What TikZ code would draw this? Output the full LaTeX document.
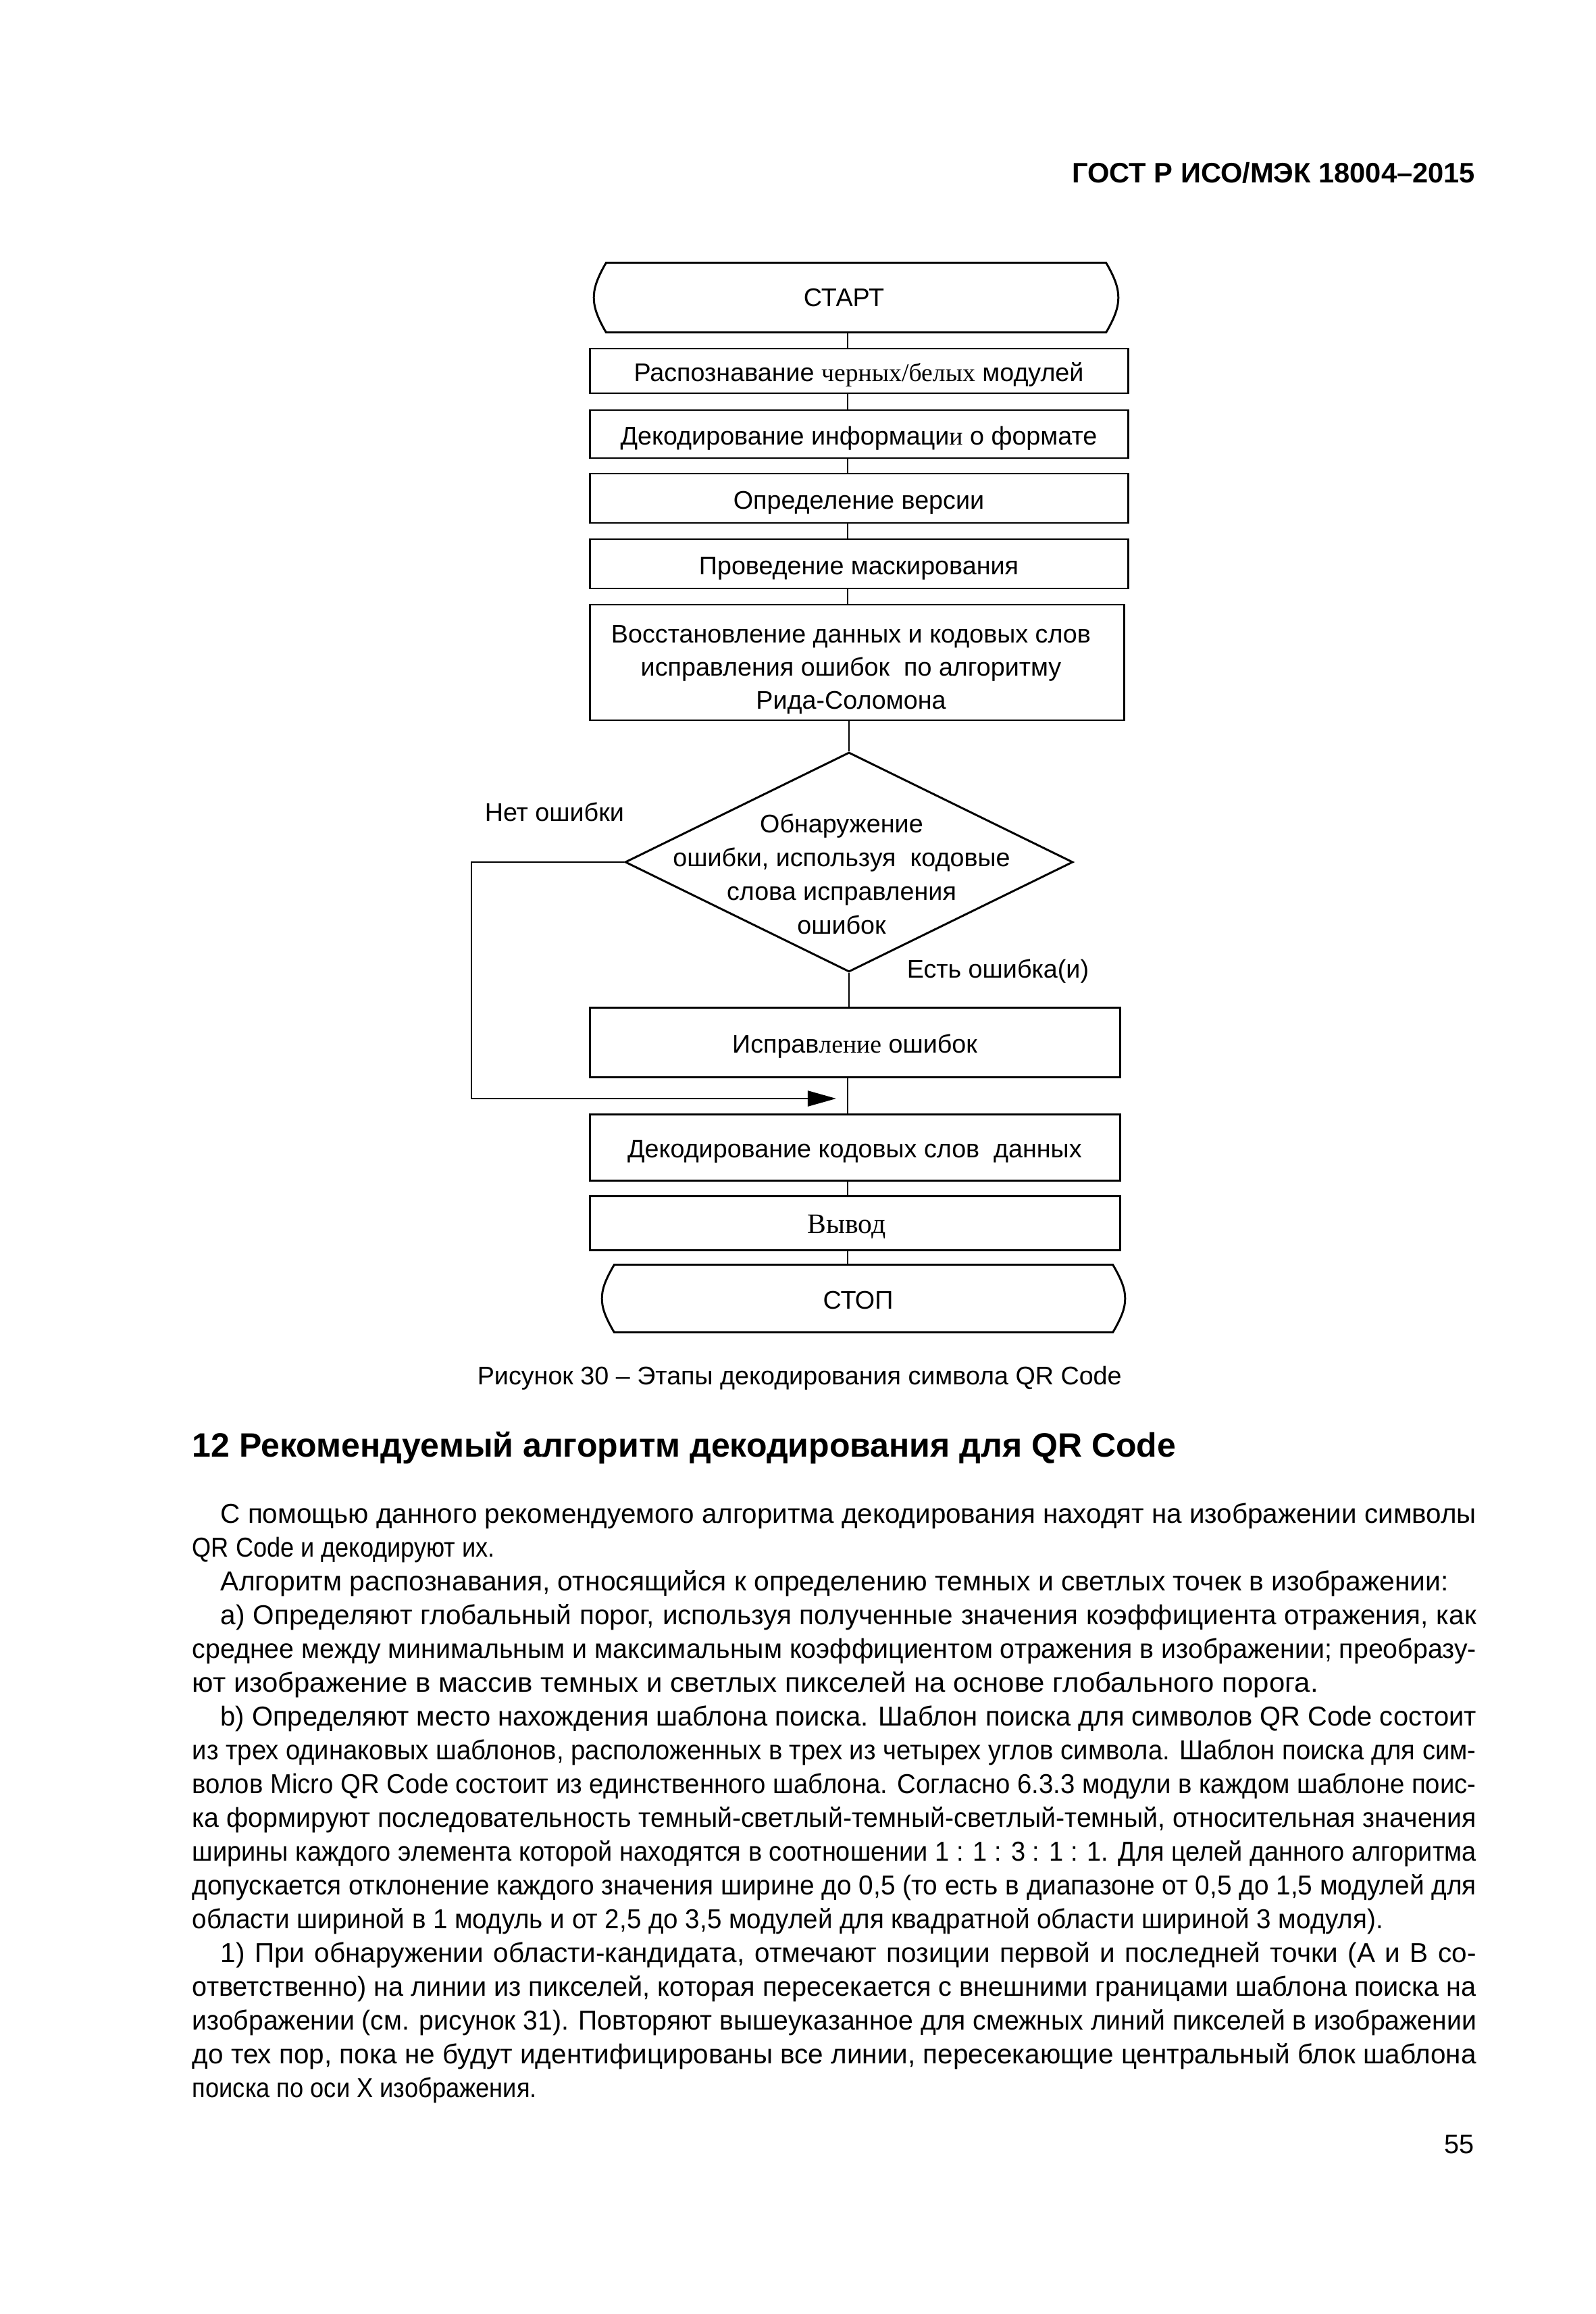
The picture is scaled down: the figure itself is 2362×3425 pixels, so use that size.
\documentclass[tikz,border=0pt]{standalone}
\usepackage{fontspec}
\setmainfont{Liberation Sans}
\newfontfamily\tms{Liberation Serif}
\usepackage{graphicx}
\usetikzlibrary{arrows.meta,calc,shapes.geometric}
\newlength\pxu \setlength\pxu{0.252pt}
\newsavebox\lbox
\newcommand\jl[2]{\sbox\lbox{#2}\ifdim\wd\lbox>#1\relax\resizebox{#1}{\height}{\usebox\lbox}\else\makebox[#1][s]{#2}\fi}
\newcommand\fl[2]{\resizebox{#1}{\height}{#2}}
\newcommand\flowfont{\fontsize{9.5pt}{12.6pt}\selectfont}
\newcommand\bodyfont{\fontsize{10.2pt}{12.6pt}\selectfont}
\newcommand\termoutline[1]{%
  \draw[boxline] ($(#1.north west)+(18,0)$) -- ($(#1.north east)+(-18,0)$)
   .. controls ($(#1.north east)+(-4,24)$) and ($(#1.east)+(0,-13)$) .. (#1.east)
   .. controls ($(#1.east)+(0,13)$) and ($(#1.south east)+(-4,-24)$) .. ($(#1.south east)+(-18,0)$)
   -- ($(#1.south west)+(18,0)$)
   .. controls ($(#1.south west)+(4,-24)$) and ($(#1.west)+(0,13)$) .. (#1.west)
   .. controls ($(#1.west)+(0,-13)$) and ($(#1.north west)+(4,24)$) .. cycle;}
\tikzset{
  boxline/.style={line width=0.75pt},
  procbox/.style={draw, boxline, rectangle, inner sep=0pt, font=\flowfont, align=center, text height=8pt, text depth=0pt},
  termbox/.style={rectangle, inner sep=0pt, font=\flowfont},
  conn/.style={line width=0.6pt},
  lbl/.style={inner sep=0pt, anchor=base west, font=\flowfont},
  bodyline/.style={inner sep=0pt, anchor=base west, font=\bodyfont},
}
\begin{document}
\begin{tikzpicture}[x=\pxu, y=-\pxu]
\fill[white] (0,0) rectangle (2362,3425);
\useasboundingbox (0,0) rectangle (2362,3425);

% header
\node[inner sep=0pt, anchor=base east, font=\bfseries\fontsize{10.5pt}{12pt}\selectfont] (hdr) at (2185,271) {ГОСТ Р ИСО/МЭК 18004–2015};

% flowchart
\coordinate (spine) at (1255,0);
\node[termbox, minimum width=775\pxu, minimum height=101\pxu] (start) at (1267.5,440.5) {\hspace*{-36\pxu}СТАРТ};
\termoutline{start}
\node[procbox, minimum width=797\pxu, minimum height=66\pxu] (b1) at (1271.5,549) {Распознавание {\tms черных/белых} модулей};
\node[procbox, minimum width=797\pxu, minimum height=71\pxu] (b2) at (1271.5,642.5) {Декодирование информаци{\tms и} о формате};
\node[procbox, minimum width=797\pxu, minimum height=73\pxu] (b3) at (1271.5,737.5) {Определение версии};
\node[procbox, minimum width=797\pxu, minimum height=73\pxu] (b4) at (1271.5,834.5) {Проведение маскирования};
\node[draw, boxline, rectangle, inner sep=0pt, minimum width=791\pxu, minimum height=171\pxu] (b5) at (1268.5,980.5) {};
\node[inner sep=0pt, align=center, font={\fontsize{9.5pt}{12.4pt}\selectfont}] (b5t) at (1260,991) {Восстановление данных и кодовых слов\\исправления ошибок\ \ по алгоритму\\Рида-Соломона};
\node[draw, boxline, shape=diamond, minimum width=663\pxu, minimum height=325\pxu, inner sep=0pt] (dec) at (1257,1276) {};
\node[inner sep=0pt, font=\flowfont, align=center] (dtext) at (1246,1294) {Обнаружение\\ошибки, используя\ \ кодовые\\слова исправления\\ошибок};
\node[procbox, minimum width=785\pxu, minimum height=103\pxu] (fix) at (1265.5,1542.5) {Исправ{\tms ление} ошибок};
\node[procbox, minimum width=785\pxu, minimum height=98\pxu] (dcw) at (1265.5,1698) {Декодирование кодовых слов\ \ данных};
\node[procbox, minimum width=785\pxu, minimum height=80\pxu] (out) at (1265.5,1810) {\hspace*{-24\pxu}{\tms\fontsize{10.5pt}{12pt}\selectfont Вывод}};
\node[termbox, minimum width=773\pxu, minimum height=98\pxu, text height=8pt, text depth=0pt] (stop) at (1278.5,1922) {\hspace*{-16\pxu}СТОП};
\termoutline{stop}

\node[lbl] (noerr) at (717,1215) {Нет ошибки};
\node[lbl] (haserr) at (1342,1447) {Есть ошибка(и)};

\draw[conn] (start.south -| spine) -- (b1.north -| spine);
\draw[conn] (b1.south -| spine) -- (b2.north -| spine);
\draw[conn] (b2.south -| spine) -- (b3.north -| spine);
\draw[conn] (b3.south -| spine) -- (b4.north -| spine);
\draw[conn] (b4.south -| spine) -- (b5.north -| spine);
\draw[conn] (b5.south -| dec.north) -- (dec.north);
\draw[conn] (dec.south) -- (dec.south |- fix.north);
\draw[conn] (fix.south -| spine) -- (dcw.north -| spine);
\draw[conn] (dcw.south -| spine) -- (out.north -| spine);
\draw[conn] (out.south -| spine) -- (stop.north -| spine);
\coordinate (lc) at (698,1626);
\coordinate (arr) at (1238,1626);
\draw[conn, -{Triangle[length=10.6pt, width=5.8pt]}] (dec.west) -| (lc) -- (arr);

% caption
\node[inner sep=0pt, anchor=base west, font=\fontsize{9.5pt}{12pt}\selectfont] (cap) at (706,2049) {Рисунок 30 – Этапы декодирования символа QR Code};

% heading
\node[inner sep=0pt, anchor=base west, font=\bfseries\fontsize{12.6pt}{14pt}\selectfont] (h12) at (284,2156) {12 Рекомендуемый алгоритм декодирования для QR Code};

% body
\node[bodyline] (l1) at (326,2254) {\jl{468.47pt}{С помощью данного рекомендуемого алгоритма декодирования находят на изображении символы}};
\node[bodyline] (l2) at (284,2304) {\fl{112.9pt}{QR Code и декодируют их.}};
\node[bodyline] (l3) at (326,2354) {\fl{458.1pt}{Алгоритм распознавания, относящийся к определению темных и светлых точек в изображении:}};
\node[bodyline] (l4) at (326,2404) {\jl{468.47pt}{а) Определяют глобальный порог, используя полученные значения коэффициента отражения, как}};
\node[bodyline] (l5) at (284,2454) {\jl{479.05pt}{среднее между минимальным и максимальным коэффициентом отражения в изображении; преобразу-}};
\node[bodyline] (l6) at (284,2504) {\fl{420.1pt}{ют изображение в массив темных и светлых пикселей на основе глобального порога.}};
\node[bodyline] (l7) at (326,2554) {\jl{468.47pt}{b) Определяют место нахождения шаблона поиска. Шаблон поиска для символов QR Code состоит}};
\node[bodyline] (l8) at (284,2604) {\jl{479.05pt}{из трех одинаковых шаблонов, расположенных в трех из четырех углов символа. Шаблон поиска для сим-}};
\node[bodyline] (l9) at (284,2654) {\jl{479.05pt}{волов Micro QR Code состоит из единственного шаблона. Согласно 6.3.3 модули в каждом шаблоне поис-}};
\node[bodyline] (l10) at (284,2704) {\jl{479.05pt}{ка формируют последовательность темный-светлый-темный-светлый-темный, относительная значения}};
\node[bodyline] (l11) at (284,2754) {\jl{479.05pt}{ширины каждого элемента которой находятся в соотношении 1 : 1 : 3 : 1 : 1. Для целей данного алгоритма}};
\node[bodyline] (l12) at (284,2804) {\jl{479.05pt}{допускается отклонение каждого значения ширине до 0,5 (то есть в диапазоне от 0,5 до 1,5 модулей для}};
\node[bodyline] (l13) at (284,2854) {\fl{444.3pt}{области шириной в 1 модуль и от 2,5 до 3,5 модулей для квадратной области шириной 3 модуля).}};
\node[bodyline] (l14) at (326,2904) {\jl{468.47pt}{1) При обнаружении области-кандидата, отмечают позиции первой и последней точки (А и В со-}};
\node[bodyline] (l15) at (284,2954) {\jl{479.05pt}{ответственно) на линии из пикселей, которая пересекается с внешними границами шаблона поиска на}};
\node[bodyline] (l16) at (284,3004) {\jl{479.05pt}{изображении (см. рисунок 31). Повторяют вышеуказанное для смежных линий пикселей в изображении}};
\node[bodyline] (l17) at (284,3054) {\jl{479.05pt}{до тех пор, пока не будут идентифицированы все линии, пересекающие центральный блок шаблона}};
\node[bodyline] (l18) at (284,3104) {\fl{128.5pt}{поиска по оси X изображения.}};

% page number
\node[inner sep=0pt, anchor=base east, font=\fontsize{10pt}{12pt}\selectfont] (pg) at (2183,3187) {55};
\end{tikzpicture}
\end{document}
